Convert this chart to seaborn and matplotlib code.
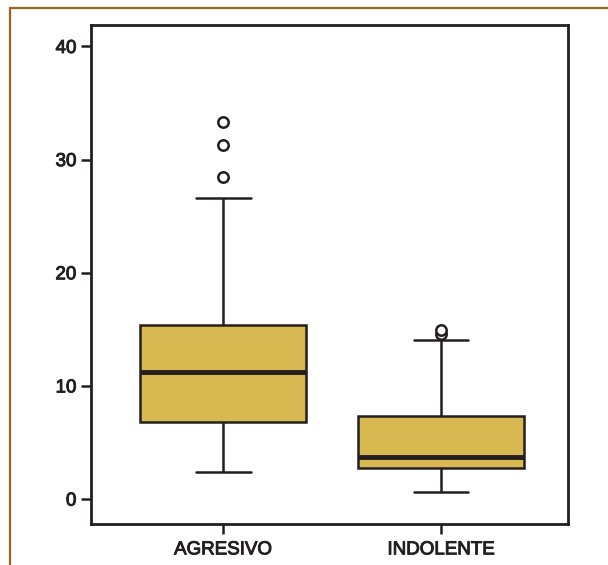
import matplotlib
matplotlib.use("Agg")
import matplotlib.pyplot as plt
import matplotlib.patheffects as pe
import seaborn as sns
import pandas as pd
import numpy as np
from matplotlib.patches import Rectangle

agresivo = [2.4, 4.1, 5.3, 6.2, 6.84, 8.0, 9.5, 10.4, 11.26, 12.3, 13.5, 14.6,
            15.4, 26.6, 28.5, 31.3, 33.3]
indolente = [0.6, 1.5, 2.0, 2.4, 2.72, 3.0, 3.3, 3.5, 3.75, 4.6, 5.5, 6.4,
             7.37, 9.8, 14.07, 14.6, 14.96]
groups = ["AGRESIVO", "INDOLENTE"]
y_ticks = [0, 10, 20, 30, 40]

df = pd.DataFrame({
    "grupo": [groups[0]] * len(agresivo) + [groups[1]] * len(indolente),
    "valor": agresivo + indolente,
})

sns.set_style("white")
plt.rcParams["font.family"] = ["Liberation Sans", "DejaVu Sans"]

ink = "#231f20"
fig = plt.figure(figsize=(6.08, 5.65), dpi=100)
ax = fig.add_axes([0.1497, 0.0726, 0.7845, 0.8832])

sns.boxplot(
    data=df, x="grupo", y="valor", order=groups, ax=ax,
    color="#d8b850", saturation=1, width=0.76, linewidth=1.8,
    boxprops=dict(edgecolor=ink),
    whiskerprops=dict(color=ink),
    capprops=dict(color=ink),
    medianprops=dict(color=ink, linewidth=3.5),
    flierprops=dict(marker="o", markerfacecolor="white", markeredgecolor=ink,
                    markersize=7.5, markeredgewidth=1.8),
)

# narrower caps, like the original
for ln in ax.lines:
    x, y = np.asarray(ln.get_xdata(), float), np.asarray(ln.get_ydata(), float)
    if len(x) == 2 and y[0] == y[1] and ln.get_linewidth() < 3:
        c = x.mean()
        ln.set_xdata([c - 0.126, c + 0.126])

ax.set_xlim(-0.606, 1.583)
ax.set_ylim(-2.2, 41.9)
ax.set_yticks(y_ticks)
ax.set_xlabel("")
ax.set_ylabel("")
for sp in ax.spines.values():
    sp.set_visible(True)
    sp.set_color(ink)
    sp.set_linewidth(2)
ax.tick_params(axis="both", direction="out", length=7.5, width=1.8, color=ink,
               labelsize=13.5, labelcolor=ink, left=True, bottom=True)
ax.tick_params(axis="x", pad=5)
ax.tick_params(axis="y", pad=3)

# slightly heavier labels, the original uses a medium weight face
for lab in ax.get_xticklabels() + ax.get_yticklabels():
    lab.set_path_effects([pe.withStroke(linewidth=0.7, foreground=ink)])

# brown page frame
fig.patches.append(Rectangle((10 / 608, -0.05), 1.2, 1 - 8 / 565 + 0.05,
                             transform=fig.transFigure, fill=False,
                             edgecolor="#a0621f", linewidth=1.6))

fig.savefig("out.png", dpi=100)
